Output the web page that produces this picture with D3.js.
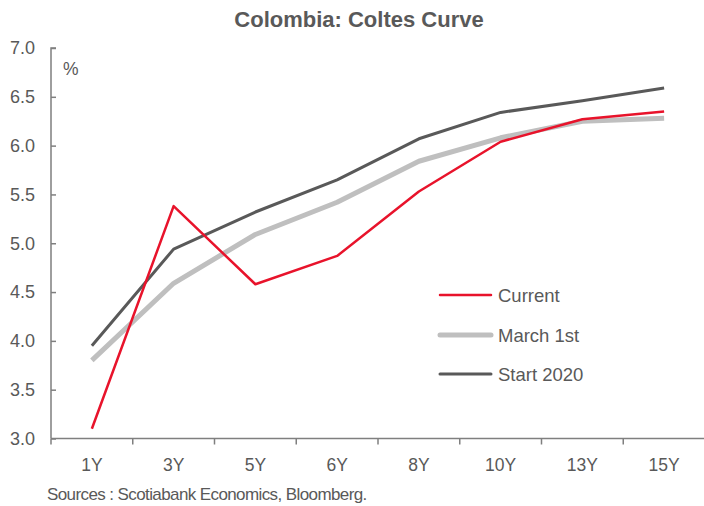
<!DOCTYPE html>
<html><head><meta charset="utf-8">
<script src="https://cdn.jsdelivr.net/npm/d3@7"></script>
<style>body{margin:0;background:#fff}svg{display:block;font-family:"Liberation Sans",Arial,sans-serif}</style>
</head><body>
<svg id="c" width="704" height="506"></svg>
<script>
const categories = ["1Y","3Y","5Y","6Y","8Y","10Y","13Y","15Y"];
const current   = [3.10,5.38,4.58,4.87,5.53,6.04,6.27,6.35];
const march1st  = [3.80,4.59,5.09,5.42,5.84,6.08,6.25,6.28];
const start2020 = [3.95,4.94,5.32,5.65,6.07,6.34,6.46,6.59];
const yTicks = [3.0,3.5,4.0,4.5,5.0,5.5,6.0,6.5,7.0];
const seriesNames = ["Current","March 1st","Start 2020"];

const svg = d3.select("#c");
const L = 51, R = 705, T = 48, B = 438.5;
const x = d3.scaleBand().domain(categories).range([L, R]);
const y = d3.scaleLinear().domain([3, 7]).range([B, T]);
const txt = "#595959";
const FF = "Liberation Sans, Arial, sans-serif";

svg.append("text").attr("x", 359).attr("y", 27).attr("text-anchor","middle")
  .attr("font-size", 22).attr("font-weight","bold").attr("fill", txt).text("Colombia:  Coltes Curve");

// y axis
const ya = svg.append("g").attr("transform",`translate(${L},0)`)
  .call(d3.axisRight(y).tickValues(yTicks).tickFormat(d3.format(".1f")).tickSize(5));
ya.select(".domain").attr("stroke","#7f7f7f").attr("stroke-width",1.5).attr("d",`M5,${T}H0V${B}`);
ya.selectAll(".tick line").attr("stroke","#7f7f7f").attr("stroke-width",1.5);
ya.selectAll(".tick text").attr("x",-16).attr("text-anchor","end").attr("font-size",18).attr("fill",txt)
  .attr("font-family",FF);

// x axis
const xa = svg.append("g").attr("transform",`translate(0,${B})`)
  .call(d3.axisBottom(x).tickSize(0).tickPadding(20));
xa.select(".domain").attr("stroke","#7f7f7f").attr("stroke-width",1.5).attr("d",`M${L},0H${R}`);
xa.selectAll(".tick text").attr("font-size",17.5).attr("fill",txt).attr("font-family",FF);
xa.selectAll(".bt").data(categories).enter().append("line")
  .attr("x1",d=>x(d)).attr("x2",d=>x(d)).attr("y1",0).attr("y2",6)
  .attr("stroke","#7f7f7f").attr("stroke-width",1.5);

svg.append("text").attr("x",63).attr("y",75).attr("font-size",17.5).attr("fill",txt).text("%");

const line = d3.line().x((d,i)=>x(categories[i]) + x.bandwidth()/2).y(d=>y(d));
const styles = [
  {data: march1st, color:"#bfbfbf", w:5},
  {data: start2020, color:"#595959", w:3},
  {data: current, color:"#e8132b", w:2.5}
];
styles.forEach(s=>{
  svg.append("path").datum(s.data).attr("d",line).attr("fill","none")
    .attr("stroke",s.color).attr("stroke-width",s.w).attr("stroke-linejoin","round");
});

// legend
const leg = [
  {name: seriesNames[0], color:"#e8132b", w:2.5, y:295},
  {name: seriesNames[1], color:"#bfbfbf", w:5, y:335},
  {name: seriesNames[2], color:"#595959", w:3, y:374}
];
leg.forEach(l=>{
  svg.append("line").attr("x1",440).attr("x2",491).attr("y1",l.y).attr("y2",l.y)
    .attr("stroke",l.color).attr("stroke-width",l.w).attr("stroke-linecap","round");
  svg.append("text").attr("x",498).attr("y",l.y+7).attr("font-size",18.5).attr("fill",txt).text(l.name);
});

svg.append("text").attr("x",47).attr("y",500).attr("font-size",17).attr("fill",txt)
  .attr("letter-spacing",-0.6).text("Sources : Scotiabank Economics, Bloomberg.");
</script>
</body></html>
